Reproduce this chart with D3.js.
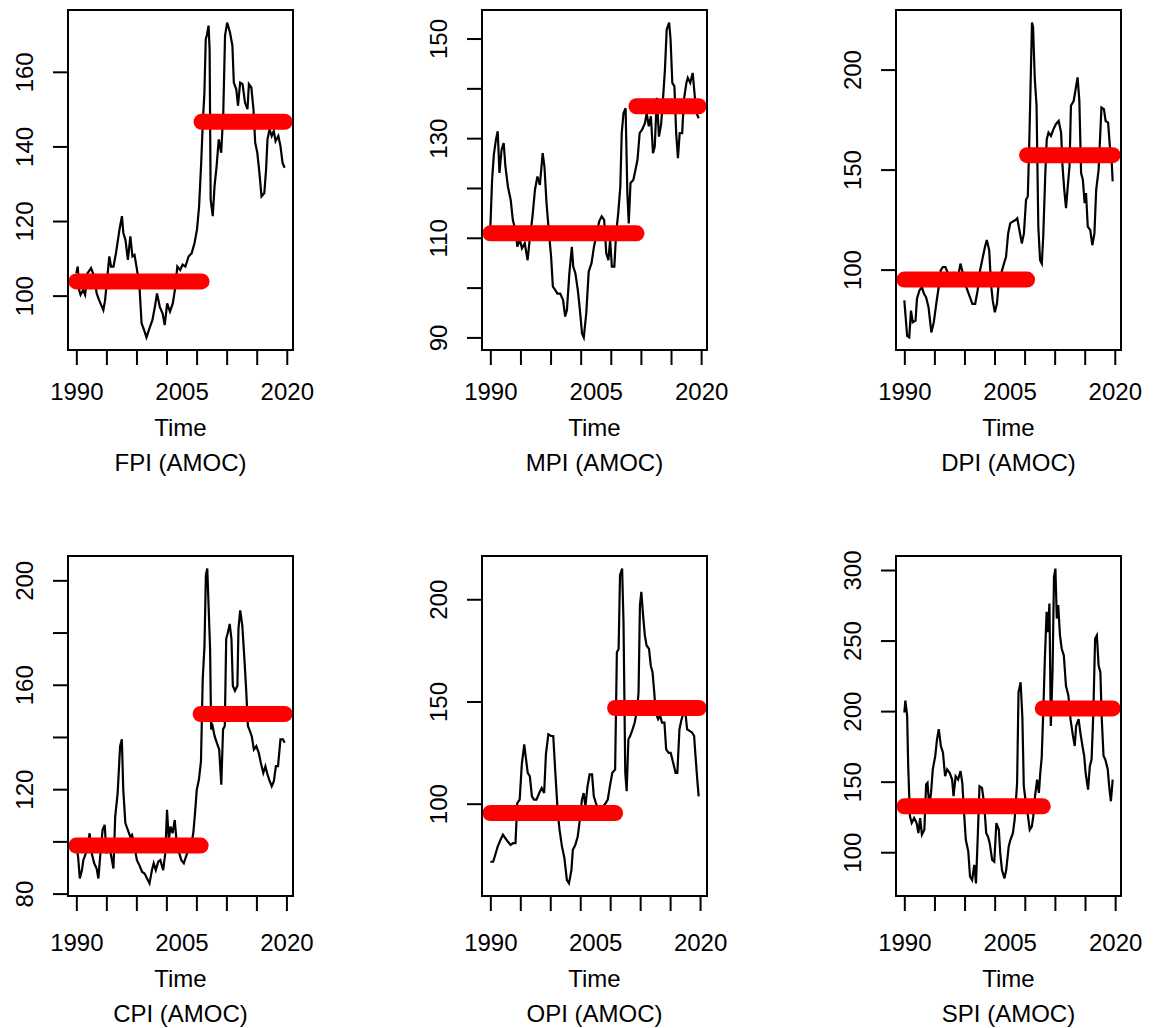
<!DOCTYPE html>
<html>
<head>
	<title>AMOC change points</title>
	<style type="text/css">
		body {
			margin: 0;
			background: white;
		}
		svg text {
			font-family: "Liberation Sans", Arial, sans-serif;
			font-size: 24px;
			fill: black;
		}
	</style>
</head>
<body>
<svg id="chart"></svg>
<script type="text/javascript" src="https://d3js.org/d3.v7.min.js"></script>
<script type="text/javascript">

	// [year, index value]
	var fpi = [[1990.0,106.0],[1990.2,107.8],[1990.4,101.5],[1990.6,100.2],[1990.95,101.5],[1991.25,100.2],[1991.6,106],[1992.1,107.4],[1992.55,105.1],[1992.9,100.6],[1993.25,98.8],[1993.85,96.1],[1994.1,98.8],[1994.7,110.5],[1994.95,107.8],[1995.3,107.8],[1995.65,111.4],[1996.15,117.7],[1996.5,121.3],[1996.7,116.8],[1997.0,115],[1997.35,109.6],[1997.7,115.9],[1998.0,110.5],[1998.3,110.9],[1998.65,106.9],[1999.0,102.4],[1999.3,92.6],[1999.65,90.8],[2000.0,88.8],[2000.35,90.8],[2000.85,93.5],[2001.2,97],[2001.5,100.6],[2001.9,97],[2002.3,95.2],[2002.6,92.1],[2002.95,97.9],[2003.35,95.7],[2003.75,97.9],[2004.05,101.5],[2004.4,107.8],[2004.8,106.9],[2005.15,108.3],[2005.55,107.8],[2006.0,110.5],[2006.45,111.4],[2006.85,114.1],[2007.2,117.7],[2007.5,123.9],[2007.8,135.6],[2008.05,147.3],[2008.25,154],[2008.45,168.8],[2008.6,169.7],[2008.85,172.4],[2009.0,166.1],[2009.15,125.7],[2009.45,121.3],[2009.7,129.3],[2010.0,134.7],[2010.3,141.9],[2010.65,138.3],[2010.95,149.1],[2011.2,169.7],[2011.5,173.2],[2011.9,170.6],[2012.25,167],[2012.45,157.1],[2012.8,155.3],[2013.05,150.9],[2013.35,157.1],[2013.7,156.7],[2014.05,151.7],[2014.4,150],[2014.6,156.7],[2014.95,155.8],[2015.25,150],[2015.5,141],[2015.8,138.3],[2016.1,132.9],[2016.4,126.6],[2016.8,127.5],[2017.05,133.8],[2017.25,141.9],[2017.55,144.6],[2017.85,142.8],[2018.15,144.1],[2018.4,141.4],[2018.8,142.8],[2019.1,140.1],[2019.4,135.6],[2019.7,134.3]]

	var mpi = [[1990.0,112],[1990.25,121.6],[1990.5,126.7],[1990.8,129.7],[1991.05,131.4],[1991.3,123],[1991.6,127.7],[1991.9,129],[1992.15,124.3],[1992.5,120.3],[1992.9,117.6],[1993.2,113.6],[1993.55,111.6],[1993.85,108.2],[1994.2,109.6],[1994.5,107.9],[1994.9,108.9],[1995.3,105.5],[1995.6,109.6],[1996.0,114.3],[1996.35,119.6],[1996.7,122.3],[1997.05,120.6],[1997.45,127],[1997.7,124.3],[1998.0,116.9],[1998.35,110.9],[1998.65,106.2],[1998.9,100.2],[1999.25,99.5],[1999.55,98.8],[1999.95,98.8],[2000.35,97.5],[2000.65,94.2],[2000.9,95.5],[2001.25,102.9],[2001.6,108.2],[2001.8,104.2],[2002.1,102.9],[2002.45,99.5],[2002.75,95.5],[2003.05,90.8],[2003.3,90],[2003.65,94.8],[2004.0,103.2],[2004.4,104.9],[2004.75,108.2],[2005.15,110.9],[2005.5,113.3],[2005.85,114.3],[2006.2,113.6],[2006.5,106.9],[2006.8,105.5],[2007.05,109.6],[2007.3,104.2],[2007.65,104.2],[2007.9,110.9],[2008.2,114.9],[2008.5,120.3],[2008.7,131],[2008.95,135],[2009.25,136],[2009.5,119],[2009.7,112.9],[2009.95,121],[2010.35,121.6],[2010.65,123.6],[2010.95,125.7],[2011.25,131],[2011.6,131.7],[2012.0,133],[2012.25,135],[2012.55,132.4],[2012.85,134.4],[2013.15,127],[2013.4,128.3],[2013.7,138.1],[2014.0,130.3],[2014.3,132.7],[2014.6,138.4],[2014.85,143.8],[2015.1,151.8],[2015.45,153.2],[2015.65,149.8],[2015.9,141.1],[2016.2,140.4],[2016.45,131],[2016.7,126],[2016.95,131],[2017.3,131],[2017.55,137.7],[2017.9,141.1],[2018.1,142.1],[2018.45,141.1],[2018.8,143.1],[2019.1,138.4],[2019.35,135],[2019.65,134]]

	var dpi = [[1990.0,84.6],[1990.15,77.9],[1990.4,66.9],[1990.7,66.1],[1990.95,79.5],[1991.2,73.7],[1991.6,74.5],[1991.8,85.4],[1992.15,89.6],[1992.5,91.3],[1992.8,87.9],[1993.1,86.2],[1993.45,81.2],[1993.85,68.6],[1994.2,73.7],[1994.55,82.9],[1994.9,91.3],[1995.2,99.7],[1995.5,101.3],[1995.85,101.3],[1996.25,98],[1996.6,96.3],[1996.95,98],[1997.35,94.6],[1997.7,97.1],[1998.0,103],[1998.3,98.8],[1998.65,93],[1999.0,89.6],[1999.35,86.2],[1999.7,82.9],[2000.1,82.9],[2000.45,89.6],[2000.8,99.7],[2001.2,106.4],[2001.5,111.4],[2001.75,114.8],[2002.1,109.7],[2002.35,93],[2002.6,84.6],[2002.9,78.7],[2003.2,82.9],[2003.45,93],[2003.8,98],[2004.2,103],[2004.5,106.4],[2004.8,118.1],[2005.1,123.2],[2005.45,124],[2005.85,124.8],[2006.1,125.7],[2006.4,119.8],[2006.75,113.1],[2007.05,118.1],[2007.35,134.9],[2007.6,136.6],[2007.8,161.7],[2008.0,192.8],[2008.2,223.5],[2008.35,221.3],[2008.6,195.3],[2008.85,181.9],[2009.1,121.5],[2009.35,104.7],[2009.6,103],[2009.8,116.4],[2010.1,148.3],[2010.3,165.1],[2010.55,168.5],[2010.9,166.8],[2011.25,170.1],[2011.6,172.7],[2012.0,174.3],[2012.35,168.5],[2012.55,151.7],[2012.8,139.9],[2013.05,130.7],[2013.3,141.6],[2013.55,151.7],[2013.75,181.9],[2014.15,184.4],[2014.5,191.9],[2014.7,196.1],[2014.95,184.4],[2015.2,148.3],[2015.45,145],[2015.7,133.2],[2015.9,138.3],[2016.15,121.5],[2016.5,119.8],[2016.8,112.2],[2017.1,118.1],[2017.35,139.9],[2017.7,150],[2018.1,181],[2018.45,180.2],[2018.7,174.3],[2019.05,173.5],[2019.3,161.7],[2019.5,158.4],[2019.7,144.1]]

	var cpi = [[1990.0,98],[1990.25,94.1],[1990.5,85.8],[1990.8,89],[1991.0,92.8],[1991.35,95.4],[1991.7,99.9],[1991.9,103.1],[1992.2,95.4],[1992.55,91.6],[1992.9,89.6],[1993.15,85.8],[1993.4,94.1],[1993.75,104.4],[1994.05,106.3],[1994.3,95.4],[1994.6,98],[1994.95,94.8],[1995.3,89.6],[1995.55,109.5],[1995.9,118.5],[1996.25,136.5],[1996.5,139.1],[1996.7,119.8],[1997.0,107],[1997.35,104.4],[1997.7,101.8],[1997.95,102.5],[1998.3,98],[1998.65,92.8],[1999.0,90.9],[1999.4,88.3],[1999.75,87.7],[2000.1,85.8],[2000.45,83.9],[2000.8,89],[2001.05,91.6],[2001.35,89],[2001.7,92.2],[2002.0,92.8],[2002.4,89],[2002.7,95.4],[2002.95,112.1],[2003.2,100.5],[2003.45,105.7],[2003.75,103.1],[2004.05,108.2],[2004.3,100.5],[2004.7,95.4],[2005.0,92.8],[2005.35,91.6],[2005.65,94.1],[2006.0,96.7],[2006.35,98],[2006.7,103.1],[2006.95,110.8],[2007.2,119.8],[2007.5,123.6],[2007.8,130.7],[2008.05,162.2],[2008.3,175],[2008.5,202],[2008.7,204.5],[2008.9,189.1],[2009.1,173.7],[2009.25,142.9],[2009.45,144.2],[2009.75,140.3],[2010.05,137.8],[2010.4,135.2],[2010.7,121.7],[2010.95,142.9],[2011.2,144.2],[2011.4,177.6],[2011.6,179.5],[2011.9,183.3],[2012.15,177.6],[2012.35,159.6],[2012.65,157.7],[2013.0,159.6],[2013.15,181.4],[2013.4,188.5],[2013.7,182.7],[2014.0,169.9],[2014.25,158.3],[2014.5,144.2],[2014.7,142.9],[2015.05,140.3],[2015.35,135.2],[2015.7,136.5],[2016.05,133.9],[2016.35,130],[2016.7,126.2],[2017.0,128.8],[2017.3,125.6],[2017.55,123.6],[2017.9,121.1],[2018.2,123],[2018.5,128.8],[2018.8,128.8],[2019.15,139.1],[2019.5,139.1],[2019.75,137.8]]

	var opi = [[1990.0,71.6],[1990.4,71.6],[1990.7,74.9],[1991.05,79],[1991.45,82.3],[1991.8,84.8],[1992.15,83.1],[1992.5,81.5],[1992.9,79.8],[1993.25,80.7],[1993.6,80.7],[1993.85,100.3],[1994.2,102],[1994.5,119.2],[1994.85,129],[1995.05,123.3],[1995.35,115.1],[1995.65,113.4],[1995.95,103.6],[1996.25,102],[1996.6,102],[1997.0,105.2],[1997.35,107.7],[1997.7,105.2],[1997.95,124.1],[1998.3,133.9],[1998.7,133.1],[1999.0,133.1],[1999.3,115.1],[1999.65,95.4],[1999.9,87.2],[2000.25,79],[2000.6,73.3],[2000.95,62.6],[2001.25,61],[2001.6,67.5],[2001.8,77.4],[2002.15,79.8],[2002.5,83.9],[2002.8,92.1],[2003.1,102],[2003.35,105.2],[2003.6,98.7],[2003.9,108.5],[2004.2,114.3],[2004.55,114.3],[2004.8,103.6],[2005.1,100.3],[2005.45,97],[2005.8,93.8],[2006.15,98.7],[2006.5,100.3],[2006.8,102],[2007.1,108.5],[2007.45,115.1],[2007.85,116.7],[2008.1,174.1],[2008.35,175.7],[2008.55,211.8],[2008.85,215],[2009.05,188.9],[2009.3,115.1],[2009.5,106.1],[2009.75,131.5],[2010.0,133.1],[2010.35,136.4],[2010.65,139.7],[2011.0,146.2],[2011.2,154.4],[2011.4,197],[2011.6,203.6],[2011.85,192.1],[2012.1,182.3],[2012.35,177.4],[2012.7,175.7],[2012.95,167.5],[2013.2,164.3],[2013.45,154.4],[2013.65,144.6],[2014.0,141.3],[2014.3,143],[2014.55,139.7],[2014.9,139.7],[2015.15,126.6],[2015.5,124.9],[2015.8,124.9],[2016.15,120],[2016.5,115.1],[2016.75,115.1],[2017.05,136.4],[2017.3,140.5],[2017.65,144.6],[2017.9,144.6],[2018.15,136.4],[2018.5,135.6],[2018.85,134.8],[2019.15,133.1],[2019.35,123.3],[2019.6,111.8],[2019.8,103.6]]

	var spi = [[1990.0,199],[1990.15,207.4],[1990.4,196.7],[1990.55,161],[1990.8,125.4],[1991.05,120.7],[1991.4,124.2],[1991.75,120.7],[1992.0,113.5],[1992.25,124.2],[1992.5,112.4],[1992.85,115.9],[1993.1,148],[1993.3,149.2],[1993.55,132.5],[1993.8,142],[1994.05,158.7],[1994.4,168.2],[1994.65,180],[1994.9,187.2],[1995.2,175.3],[1995.5,170.5],[1995.8,153.9],[1996.1,158.7],[1996.45,156.3],[1996.8,151.5],[1997.0,139.7],[1997.3,153.9],[1997.65,151.5],[1998.0,157.5],[1998.25,149.2],[1998.5,127.8],[1998.75,108.8],[1999.1,100.5],[1999.35,82.7],[1999.65,80.3],[1999.95,91],[2000.2,77.9],[2000.45,111.2],[2000.7,146.8],[2001.05,145.6],[2001.35,134.9],[2001.65,113.5],[2001.9,111.2],[2002.15,106.4],[2002.5,94.5],[2002.8,93.3],[2003.1,120.7],[2003.45,115.9],[2003.65,99.3],[2003.9,87.4],[2004.25,81.5],[2004.5,87.4],[2004.85,104],[2005.1,108.8],[2005.45,113.5],[2005.7,123],[2006.05,149.2],[2006.25,213.3],[2006.55,220.4],[2006.8,195.5],[2007.0,146.8],[2007.3,134.9],[2007.6,125.4],[2007.85,115.9],[2008.15,118.3],[2008.35,125.4],[2008.6,139.7],[2008.9,151.5],[2009.15,142],[2009.35,156.3],[2009.55,167],[2009.8,203.8],[2010.0,237.1],[2010.25,270.3],[2010.45,256],[2010.65,276.2],[2010.85,189.5],[2011.1,229.9],[2011.3,295.2],[2011.5,301],[2011.7,265.6],[2011.9,275.1],[2012.15,253.7],[2012.4,244.2],[2012.7,239.4],[2013.0,218],[2013.35,210.9],[2013.65,194.3],[2014.0,182.4],[2014.25,175.3],[2014.45,189.5],[2014.8,194.3],[2015.05,184.8],[2015.35,175.3],[2015.6,168.2],[2015.8,156.3],[2016.15,144.4],[2016.4,161],[2016.65,165.8],[2016.9,199],[2017.15,251.3],[2017.4,253.7],[2017.65,232.3],[2017.9,227.6],[2018.1,194.3],[2018.35,168.2],[2018.6,165.8],[2018.95,158.7],[2019.15,146.8],[2019.4,136.1],[2019.65,151.5]]

	// segment means: [from, to, mean]
	var fpiMeans = [[1990, 2007.85, 103.8], [2007.85, 2019.7, 146.6]]
	var mpiMeans = [[1990, 2010.8, 110.9], [2010.8, 2019.65, 136.4]]
	var dpiMeans = [[1990, 2007.5, 95.0], [2007.5, 2019.7, 157.2]]
	var cpiMeans = [[1990, 2007.75, 98.4], [2007.75, 2019.75, 148.8]]
	var opiMeans = [[1990, 2007.85, 95.4], [2007.85, 2019.8, 146.8]]
	var spiMeans = [[1990, 2009.7, 132.5], [2009.7, 2019.65, 201.9]]

	var titles = ["FPI (AMOC)", "MPI (AMOC)", "DPI (AMOC)", "CPI (AMOC)", "OPI (AMOC)", "SPI (AMOC)"]
	var yTicks = [
		[100, 120, 140, 160],
		[90, 100, 110, 120, 130, 140, 150],
		[100, 150, 200],
		[80, 100, 120, 140, 160, 180, 200],
		[100, 150, 200],
		[100, 150, 200, 250, 300]
	]
	var yLabels = [
		[100, 120, 140, 160],
		[90, 110, 130, 150],
		[100, 150, 200],
		[80, 120, 160, 200],
		[100, 150, 200],
		[100, 150, 200, 250, 300]
	]
	var xLabels = [1990, 2005, 2020]
	var xTickCount = 8

	var series = [fpi, mpi, dpi, cpi, opi, spi]
	var means = [fpiMeans, mpiMeans, dpiMeans, cpiMeans, opiMeans, spiMeans]

	var width = 1154,
		height = 1028

	var svg = d3.select("#chart")
		.attr("width", width)
		.attr("height", height)

	var boxW = 225,
		boxH = 340

	var xTicks = d3.range(xTickCount).map(i => xLabels[0] + i * (xLabels[2] - xLabels[0]) / (xTickCount - 1))

	function padded(ext) {
		var r = ext[1] - ext[0]
		return [ext[0] - 0.04 * r, ext[1] + 0.04 * r]
	}

	series.forEach(function(data, i) {
		var col = i % 3,
			row = Math.floor(i / 3)
		var left = 68 + col * 414,
			top = 10 + row * 546,
			shift = row * 5   // bottom row text sits a little lower

		var x = d3.scaleLinear()
			.domain(padded(d3.extent(data, d => d[0])))
			.range([left, left + boxW])
		var y = d3.scaleLinear()
			.domain(padded(d3.extent(data, d => d[1])))
			.range([top + boxH, top])

		var g = svg.append("g")

		// series
		g.append("path")
			.datum(data)
			.attr("fill", "none")
			.attr("stroke", "black")
			.attr("stroke-width", 2.2)
			.attr("d", d3.line().x(d => x(d[0])).y(d => y(d[1])))

		// segment means
		g.selectAll(".seg")
			.data(means[i])
			.enter().append("line")
			.attr("class", "seg")
			.attr("x1", d => x(d[0]))
			.attr("x2", d => x(d[1]))
			.attr("y1", d => y(d[2]))
			.attr("y2", d => y(d[2]))
			.attr("stroke", "#ff0000")
			.attr("stroke-width", 16)
			.attr("stroke-linecap", "round")

		// box
		g.append("rect")
			.attr("x", left)
			.attr("y", top)
			.attr("width", boxW)
			.attr("height", boxH)
			.attr("fill", "none")
			.attr("stroke", "black")
			.attr("stroke-width", 2)

		// y axis
		var labs = yLabels[i]
		var ya = g.append("g")
			.attr("transform", `translate(${left},0)`)
			.call(d3.axisLeft(y).tickValues(yTicks[i]).tickSize(15)
				.tickFormat(d => labs.indexOf(d) >= 0 ? d : ""))
		ya.select(".domain").remove()
		ya.selectAll(".tick line").attr("stroke", "black").attr("stroke-width", 2)
		ya.selectAll(".tick text")
			.attr("transform", "rotate(-90)")
			.attr("x", 0)
			.attr("y", -35)
			.attr("dy", null)
			.attr("text-anchor", "middle")
			.attr("font-size", null)
			.attr("font-family", null)

		// x axis ticks
		var xa = g.append("g")
			.attr("transform", `translate(0,${top + boxH})`)
			.call(d3.axisBottom(x).tickValues(xTicks).tickSize(15).tickFormat(""))
		xa.select(".domain").remove()
		xa.selectAll(".tick line").attr("stroke", "black").attr("stroke-width", 2)

		// x axis labels
		var xl = g.append("g")
			.attr("transform", `translate(0,${top + boxH})`)
			.call(d3.axisBottom(x).tickValues(xLabels).tickSize(0).tickFormat(d3.format("d")))
		xl.select(".domain").remove()
		xl.selectAll(".tick text")
			.attr("y", 50 + shift)
			.attr("dy", null)
			.attr("font-size", null)
			.attr("font-family", null)

		var cx = left + boxW / 2
		g.append("text")
			.attr("x", cx)
			.attr("y", top + boxH + 86 + shift)
			.attr("text-anchor", "middle")
			.text("Time")

		g.append("text")
			.attr("x", cx)
			.attr("y", top + boxH + 121 + shift)
			.attr("text-anchor", "middle")
			.text(titles[i])
	})
</script>
</body>
</html>
